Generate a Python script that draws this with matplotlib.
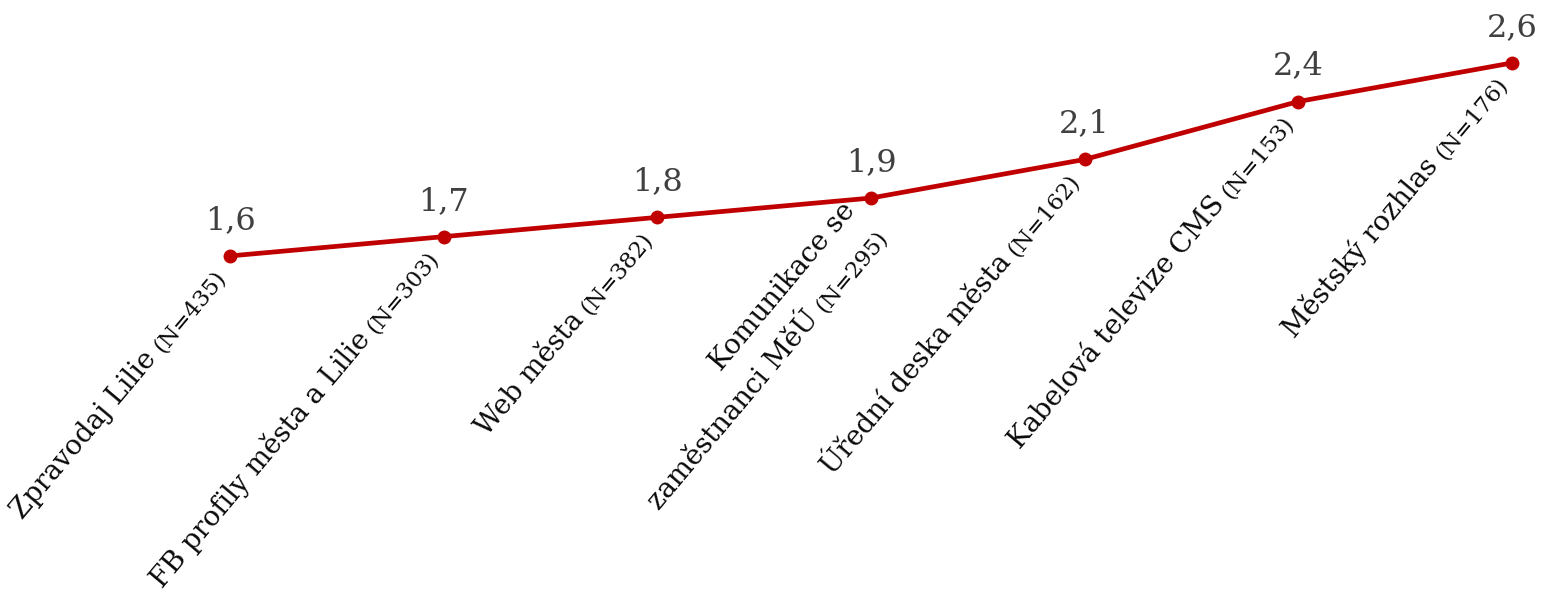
import matplotlib
matplotlib.use("Agg")
import matplotlib.pyplot as plt
from matplotlib.transforms import IdentityTransform
import numpy as np

categories = ["Zpravodaj Lilie", "FB profily města a Lilie", "Web města",
              "Komunikace se\nzaměstnanci MěÚ", "Úřední deska města",
              "Kabelová televize CMS", "Městský rozhlas"]
counts = [435, 303, 382, 295, 162, 153, 176]
values = [1.6, 1.7, 1.8, 1.9, 2.1, 2.4, 2.6]

FONT = "DejaVu Serif"
MAIN_SIZE = 19.8
N_SIZE = 16.3
VAL_SIZE = 23
LINE_COLOR = "#C00000"
ANG = 50

fig = plt.figure(figsize=(15.41, 6.03), dpi=100)
ax = fig.add_axes([0, 0, 1, 1])
x = np.arange(len(values))
ax.plot(x, values, color=LINE_COLOR, lw=3.4, marker="o", ms=9,
        solid_capstyle="round", zorder=3)
ax.set_xlim(-1.0765, 6.1357)
ax.set_ylim(-0.198, 2.926)
ax.axis("off")

for xi, val in zip(x, values):
    ax.annotate(f"{val:.1f}".replace(".", ","), (xi, val), xytext=(0, 27),
                textcoords="offset pixels", ha="center", va="baseline",
                fontsize=VAL_SIZE, family=FONT, color="#404040")

renderer = fig.canvas.get_renderer()


def text_width(s, size):
    t = fig.text(0, 0, s, fontsize=size, family=FONT)
    w = t.get_window_extent(renderer).width
    t.remove()
    return w


th = np.deg2rad(ANG)
u = np.array([np.cos(th), np.sin(th)])
v = np.array([-np.sin(th), np.cos(th)])
ident = IdentityTransform()
gap = 0.26 * MAIN_SIZE * 100 / 72
line_h = 42

for xi, val, cat, n in zip(x, values, categories, counts):
    P = ax.transData.transform((xi, val))
    A = P + np.array([-4.0, -22.0])
    lines = cat.split("\n")
    nl = len(lines)
    A_last = A - (nl - 1) * 28 * v
    ntxt = f"(N={n})"
    wN = text_width(ntxt, N_SIZE)
    kw = dict(rotation=ANG, rotation_mode="anchor", ha="right", va="baseline",
              family=FONT, color="#0a0a0a", transform=ident)
    ax.text(A_last[0], A_last[1], ntxt, fontsize=N_SIZE, **kw)
    B = A_last - (wN + gap) * u
    ax.text(B[0], B[1], lines[-1], fontsize=MAIN_SIZE, **kw)
    for k, ln in enumerate(reversed(lines[:-1]), start=1):
        C = A_last + k * line_h * v
        ax.text(C[0], C[1], ln, fontsize=MAIN_SIZE, **kw)

fig.savefig("out.png", dpi=100)
